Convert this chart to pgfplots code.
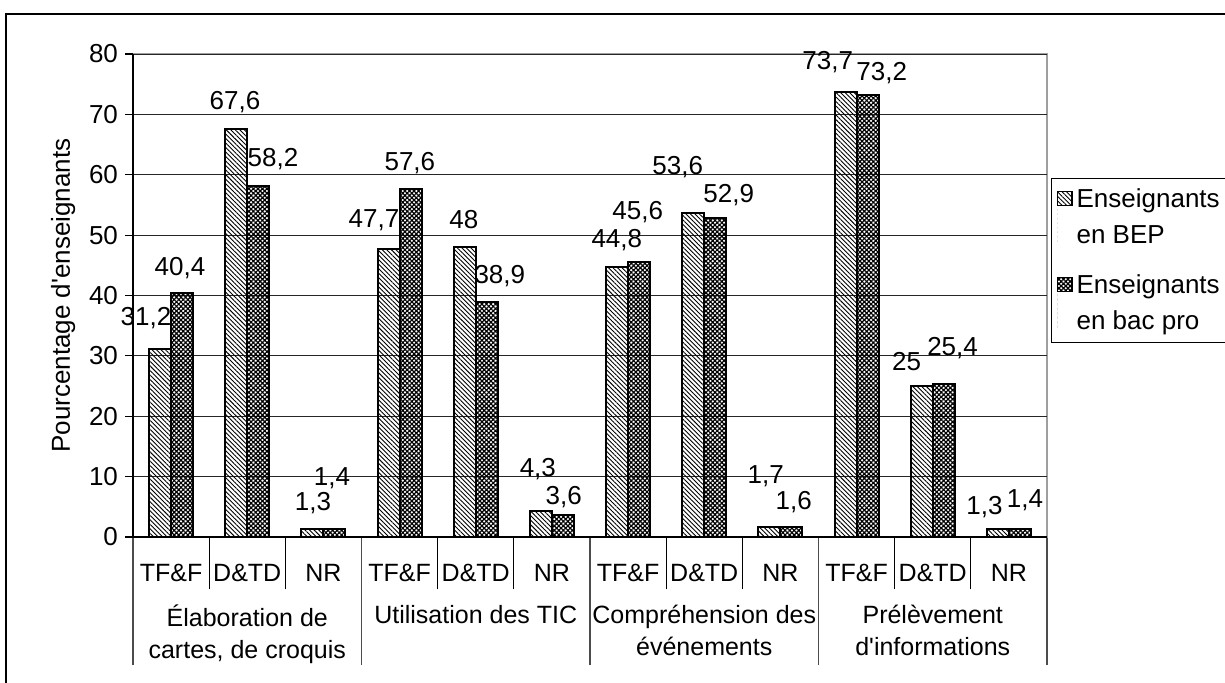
\documentclass[border=0pt]{standalone}
\usepackage{fontspec}
\setmainfont{Liberation Sans}
\usepackage{pgfplots}
\pgfplotsset{compat=1.18}
\usepackage{pgfplotstable}
\usetikzlibrary{patterns.meta}
\newcommand{\fs}{\fontsize{13}{16}\selectfont}
\newcommand{\fg}{\fontsize{12.5}{16}\selectfont}
\pgfplotsset{sqleg/.style={legend image code/.code={%
  \path[draw=none] (0pt,-12.9pt) -- (0pt,12.9pt);
  \draw[##1, line width=0.6pt] (0pt,5.9pt) rectangle (7.4pt,12.9pt);}}}

\pgfplotstableread{
x v
0 31.2
1 67.6
2 1.3
3 47.7
4 48
5 4.3
6 44.8
7 53.6
8 1.7
9 73.7
10 25
11 1.3
}\bep
\pgfplotstableread{
x v
0 40.4
1 58.2
2 1.4
3 57.6
4 38.9
5 3.6
6 45.6
7 52.9
8 1.6
9 73.2
10 25.4
11 1.4
}\bac
\pgfplotstableread{
lx ly lab
-0.329 36.3 31,2
0.117 44.6 40,4
0.839 72.1 67,6
1.337 62.6 58,2
1.862 5.6 1,3
2.112 9.8 1,4
2.663 52.5 47,7
3.135 62.0 57,6
3.844 52.5 48
4.316 43.3 38,9
4.815 11.3 4,3
5.156 6.6 3,6
5.852 49.2 44,8
6.127 53.9 45,6
6.652 61.3 53,6
7.321 56.7 52,9
7.807 10.1 1,7
8.175 5.8 1,6
8.621 78.6 73,7
9.330 76.9 73,2
9.657 29.0 25
10.26 31.3 25,4
10.68 5.0 1,3
11.21 6.1 1,4
}\labels

\begin{document}
\begin{tikzpicture}
\useasboundingbox (0,0) rectangle (612.5pt,341pt);
\draw[black, line width=0.6pt] (3pt,-10pt) rectangle (640pt,334pt);
% background axis: gray frame, group separators and group labels
\begin{axis}[
  at={(66.5pt,72.5pt)}, anchor=south west,
  width=457pt, height=241.5pt, scale only axis,
  xmin=-0.5, xmax=11.5, ymin=0, ymax=80,
  axis line style={gray!75, line width=1pt},
  ytick=\empty,
  xtick={-0.5,2.5,5.5,8.5,11.5}, xticklabels={},
  xtick pos=bottom, tick align=outside, major tick length=64pt,
  xtick style={black!70, line width=0.7pt},
  extra x ticks={1,4,7,10},
  extra x tick labels={{\'Elaboration de\\cartes, de croquis},{Utilisation des TIC},{Compréhension des\\événements},{Prélèvement\\d\textquotesingle informations}},
  extra x tick style={major tick length=0pt, tick label style={align=center, anchor=north, yshift=-30.5pt, font=\fg}},
]
\end{axis}
% main axis
\begin{axis}[
  at={(66.5pt,72.5pt)}, anchor=south west,
  width=457pt, height=241.5pt, scale only axis,
  xmin=-0.5, xmax=11.5, ymin=0, ymax=80,
  axis x line*=bottom, axis y line*=left,
  axis line style={-, black, line width=0.8pt},
  ytick={0,10,...,80},
  ymajorgrids, grid style={black!85, line width=0.5pt},
  tick align=outside,
  major tick length=4pt,
  ytick style={black, line width=0.6pt},
  xtick={0,...,11},
  xticklabels={TF\&F,D\&TD,NR,TF\&F,D\&TD,NR,TF\&F,D\&TD,NR,TF\&F,D\&TD,NR},
  xtick style={draw=none},
  xticklabel style={anchor=center, yshift=-14pt, font=\fg},
  extra x ticks={0.5,1.5,3.5,4.5,6.5,7.5,9.5,10.5},
  extra x tick labels={},
  extra x tick style={major tick length=26pt, xtick style={draw=black, line width=0.5pt}, grid=none},
  yticklabel style={font=\fs},
  /pgf/number format/assume math mode=true,
  ylabel={Pourcentage d\textquotesingle enseignants},
  every axis y label/.style={at={(axis description cs:-0.0765,0.5)}, rotate=90, anchor=center, font=\fs},
  legend style={at={(1.0044,0.743)}, anchor=north west, draw=black, line width=0.6pt,
     font=\fs, row sep=10pt, inner ysep=3pt, inner xsep=2.5pt, cells={anchor=west},
     nodes={inner sep=2pt}},
]
\addplot[ybar, bar width=11pt, bar shift=-5.5pt, draw=black, line width=1pt,
  pattern={Lines[angle=-45, distance=1.6pt, line width=0.45pt]}, sqleg]
  table[x=x, y=v] {\bep};
\addlegendentry{\parbox[b]{80pt}{\fontsize{13}{18}\selectfont Enseignants\\en BEP\rule[-2.7pt]{0pt}{1pt}}}
\addplot[ybar, bar width=11pt, bar shift=5.5pt, draw=black, line width=1pt,
  pattern={Hatch[angle=45, distance=1.6pt, line width=0.6pt]}, sqleg]
  table[x=x, y=v] {\bac};
\addlegendentry{\parbox[b]{80pt}{\fontsize{13}{18}\selectfont Enseignants\\en bac pro\rule[-2.7pt]{0pt}{1pt}}}
\addplot[draw=none, mark=none, forget plot, nodes near coords, point meta=explicit symbolic,
  every node near coord/.append style={anchor=center, font=\fs, inner sep=0pt, black}]
  table[x=lx, y=ly, meta=lab] {\labels};
\end{axis}
\end{tikzpicture}
\end{document}
